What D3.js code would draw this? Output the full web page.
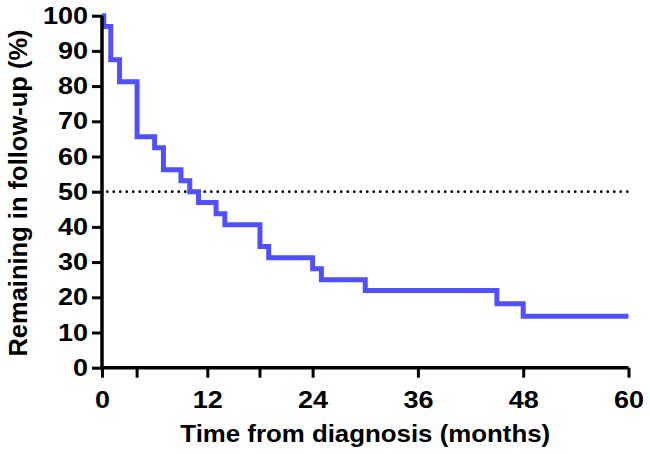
<!DOCTYPE html>
<html>
<head>
<meta charset="utf-8">
<script src="https://cdn.jsdelivr.net/npm/d3@7"></script>
<style>
  html, body { margin: 0; padding: 0; background: #fff; }
  svg { display: block; }
  text { font-family: "Liberation Sans", Arial, Helvetica, sans-serif; font-weight: bold; fill: #000; }
</style>
</head>
<body>
<svg id="chart" width="650" height="454"></svg>
<script>
// ---- data ----
const times    = [0, 0.2, 1, 2, 4, 6, 7, 9, 10, 11, 13, 14, 18, 19, 24, 25, 30, 45, 48, 60];
const survival = [100, 96.9, 87.5, 81.25, 65.6, 62.5, 56.25, 53.1, 50, 46.9, 43.75, 40.6, 34.4, 31.25, 28.1, 25, 21.9, 18.2, 14.6, 14.6];
const xTicks = [0, 12, 24, 36, 48, 60];
const xMinorTicks = [4, 18];
const yTicks = [0, 10, 20, 30, 40, 50, 60, 70, 80, 90, 100];
const medianLevel = [50];
const xTitle = "Time from diagnosis (months)";
const yTitle = "Remaining in follow-up (%)";

// ---- layout ----
const svg = d3.select("#chart");
const x = d3.scaleLinear().domain([0, 60]).range([102, 628.5]);
const y = d3.scaleLinear().domain([0, 100]).range([367.7, 15.7]);
const sx = 1.15; // horizontal widening of the label glyphs

// dotted median reference line
svg.selectAll("line.ref").data(medianLevel).enter().append("line")
  .attr("class", "ref")
  .attr("x1", x(0.6)).attr("x2", x(60))
  .attr("y1", d => y(d)).attr("y2", d => y(d))
  .attr("stroke", "#000").attr("stroke-width", 2.8)
  .attr("stroke-linecap", "round")
  .attr("stroke-dasharray", "0 6.5");

// survival step line
const pts = times.map((t, i) => [t, survival[i]]);
const line = d3.line().x(d => x(d[0])).y(d => y(d[1])).curve(d3.curveStepAfter);
svg.append("path")
  .datum(pts)
  .attr("d", line)
  .attr("fill", "none")
  .attr("stroke", "#5050FF")
  .attr("stroke-width", 5)
  .attr("stroke-linejoin", "miter")
  .attr("stroke-linecap", "butt");

// axes
const xAxis = d3.axisBottom(x).tickValues(xTicks).tickFormat(d3.format("d"))
  .tickSize(10).tickSizeOuter(0).tickPadding(14);
const yAxis = d3.axisLeft(y).tickValues(yTicks).tickFormat(d3.format("d"))
  .tickSize(10).tickSizeOuter(0).tickPadding(4);

const gx = svg.append("g").attr("transform", `translate(0,${y(0)})`).call(xAxis);
const gy = svg.append("g").attr("transform", `translate(${x(0)},0)`).call(yAxis);

// minor x ticks
gx.selectAll("line.minor").data(xMinorTicks).enter().append("line")
  .attr("class", "minor")
  .attr("x1", d => x(d)).attr("x2", d => x(d))
  .attr("y1", 0).attr("y2", 10);

[gx, gy].forEach(g => {
  g.select(".domain").attr("stroke", "#000").attr("stroke-width", 3.5);
  g.selectAll("line").attr("stroke", "#000").attr("stroke-width", 3);
  g.selectAll("text").attr("font-size", 23.5)
    .attr("font-family", "'Liberation Sans', Arial, sans-serif").attr("font-weight", "bold").attr("fill", "#000")
    .attr("transform", `scale(${sx},1)`);
});
gy.selectAll(".tick text").attr("x", -14 / sx);

// extend axis lines to meet at the corner
gx.select(".domain").attr("d", `M${x(0) - 1.75},0H${x(60)}`);
gy.select(".domain").attr("d", `M0,${y(0) + 1.75}V${y(100)}`);

// titles
const tsx = 1.1;
svg.append("text")
  .attr("transform", `scale(${tsx},1)`)
  .attr("x", (x(0) + x(60)) / 2 / tsx).attr("y", 442)
  .attr("text-anchor", "middle").attr("font-size", 23.5)
  .text(xTitle);

svg.append("text")
  .attr("transform", "translate(27,193) rotate(-90)")
  .attr("text-anchor", "middle").attr("font-size", 25.5)
  .text(yTitle);
</script>
</body>
</html>
